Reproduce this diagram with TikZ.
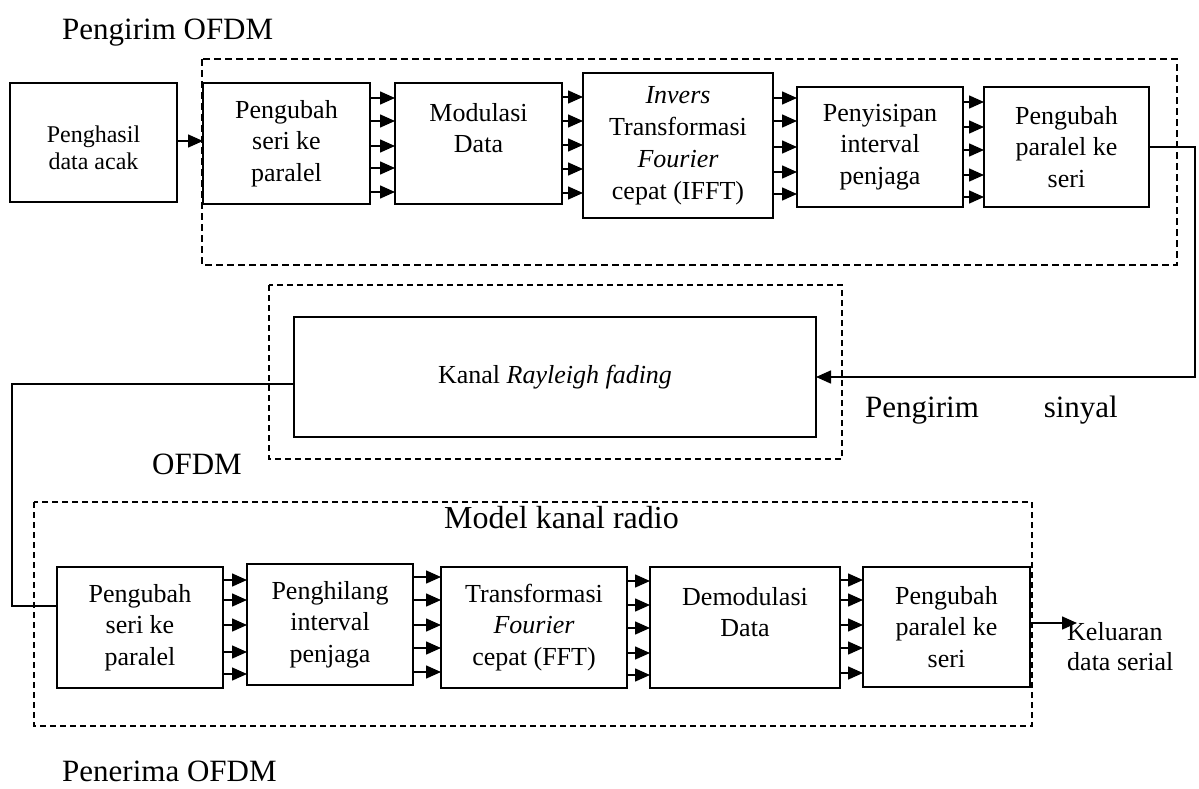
\documentclass[tikz,border=0pt]{standalone}
\usepackage{fontspec}
\setmainfont{Liberation Serif}
\usetikzlibrary{arrows.meta}

\tikzset{
  blk/.style={draw, line width=1.8pt, inner sep=0pt, outer sep=0pt, align=center,
    font=\fontsize{26}{31.5}\selectfont},
  grp/.style={line width=1.4pt, dash pattern=on 7pt off 4pt},
  grpthin/.style={line width=1.2pt, dash pattern=on 6pt off 4pt},
  wire/.style={line width=1.6pt},
  par/.style={line width=1.5pt, -{Triangle[length=15pt,width=13pt]}},
  lbl/.style={inner sep=0pt, font=\fontsize{31}{36}\selectfont},
}

\begin{document}
\begin{tikzpicture}[x=1pt, y=-1pt]
\useasboundingbox (0,0) rectangle (1199,789);

% ---------------- transmitter ----------------
\node[lbl, anchor=base west] (ttx) at (62,40) {Pengirim OFDM};
\draw[grp] (202,59) rectangle (1177,265);

\node[blk, minimum width=167pt, minimum height=119pt,
      font=\fontsize{24}{27}\selectfont] (gen) at (93.5,142.5)
  {\rule{0pt}{28pt}Penghasil\\data acak};
\node[blk, minimum width=167pt, minimum height=121pt] (s2p) at (286.5,143.5)
  {Pengubah\\seri ke\\paralel};
\node[blk, minimum width=167pt, minimum height=121pt] (mod) at (478.5,143.5)
  {Modulasi\\Data\\~};
\node[blk, minimum width=190pt, minimum height=145pt,
      font=\fontsize{26}{32}\selectfont] (ifft) at (678,145.5)
  {\textit{Invers}\\Transformasi\\\textit{Fourier}\\cepat (IFFT)};
\node[blk, minimum width=166pt, minimum height=120pt] (cp) at (880,147)
  {Penyisipan\\interval\\penjaga};
\node[blk, minimum width=165pt, minimum height=120pt] (p2s) at (1066.5,147)
  {Pengubah\\paralel ke\\seri};

\draw[par] (gen.east |- 0,141) -- (s2p.west |- 0,141);
\foreach \y in {98,121,146,168,192}
  \draw[par] (s2p.east |- 0,\y) -- (mod.west |- 0,\y);
\foreach \y in {97,121,145,169,193}
  \draw[par] (mod.east |- 0,\y) -- (ifft.west |- 0,\y);
\foreach \y in {98,121,147,172,194}
  \draw[par] (ifft.east |- 0,\y) -- (cp.west |- 0,\y);
\foreach \y in {102,127,150,175,197}
  \draw[par] (cp.east |- 0,\y) -- (p2s.west |- 0,\y);

% ---------------- channel ----------------
\draw[grpthin] (269,285) rectangle (842,459);
\node[blk, line width=1.5pt, minimum width=522pt, minimum height=120pt] (ch) at (555,377)
  {Kanal \textit{Rayleigh fading}};

\coordinate (txr) at (1195,147);
\draw[wire, -{Triangle[length=15pt,width=13pt]}] (p2s.east) -- (txr) |- (ch.east);

\node[lbl, anchor=base west] (sig1) at (865,417) {Pengirim};
\node[lbl, anchor=base east] (sig2) at (1118,417) {sinyal};
\node[lbl, anchor=base west] (sig3) at (152,474) {OFDM};

% ---------------- receiver ----------------
\draw[grpthin] (34,502) rectangle (1032,726);
\node[lbl, anchor=base west, font=\fontsize{32}{36}\selectfont] (mkr) at (444,528)
  {Model kanal radio};

\node[blk, minimum width=166pt, minimum height=121pt] (rs2p) at (140,627.5)
  {Pengubah\\seri ke\\paralel};
\node[blk, minimum width=166pt, minimum height=121pt] (rcp) at (330,624.5)
  {Penghilang\\interval\\penjaga};
\node[blk, minimum width=186pt, minimum height=121pt] (fft) at (534,627.5)
  {Transformasi\\\textit{Fourier}\\cepat (FFT)};
\node[blk, minimum width=190pt, minimum height=121pt] (dem) at (745,627.5)
  {Demodulasi\\Data\\~};
\node[blk, minimum width=167pt, minimum height=120pt] (rp2s) at (946.5,627)
  {Pengubah\\paralel ke\\seri};

\coordinate (rxl) at (12,384);
\draw[wire] (ch.west |- 0,384) -- (rxl) |- (rs2p.west |- 0,606);

\foreach \y in {580,600,625,652,674}
  \draw[par] (rs2p.east |- 0,\y) -- (rcp.west |- 0,\y);
\foreach \y in {577,600,625,648,672}
  \draw[par] (rcp.east |- 0,\y) -- (fft.west |- 0,\y);
\foreach \y in {581,605,628,653,675}
  \draw[par] (fft.east |- 0,\y) -- (dem.west |- 0,\y);
\foreach \y in {580,600,625,648,673}
  \draw[par] (dem.east |- 0,\y) -- (rp2s.west |- 0,\y);

\coordinate (out) at (1077,623);
\draw[par] (rp2s.east |- out) -- (out);
\node[anchor=north west, inner sep=0pt, align=left,
      font=\fontsize{26}{30}\selectfont] (outl) at (1067,622)
  {Keluaran\\data serial};

\node[lbl, anchor=base west] (trx) at (62,781) {Penerima OFDM};
\end{tikzpicture}
\end{document}
